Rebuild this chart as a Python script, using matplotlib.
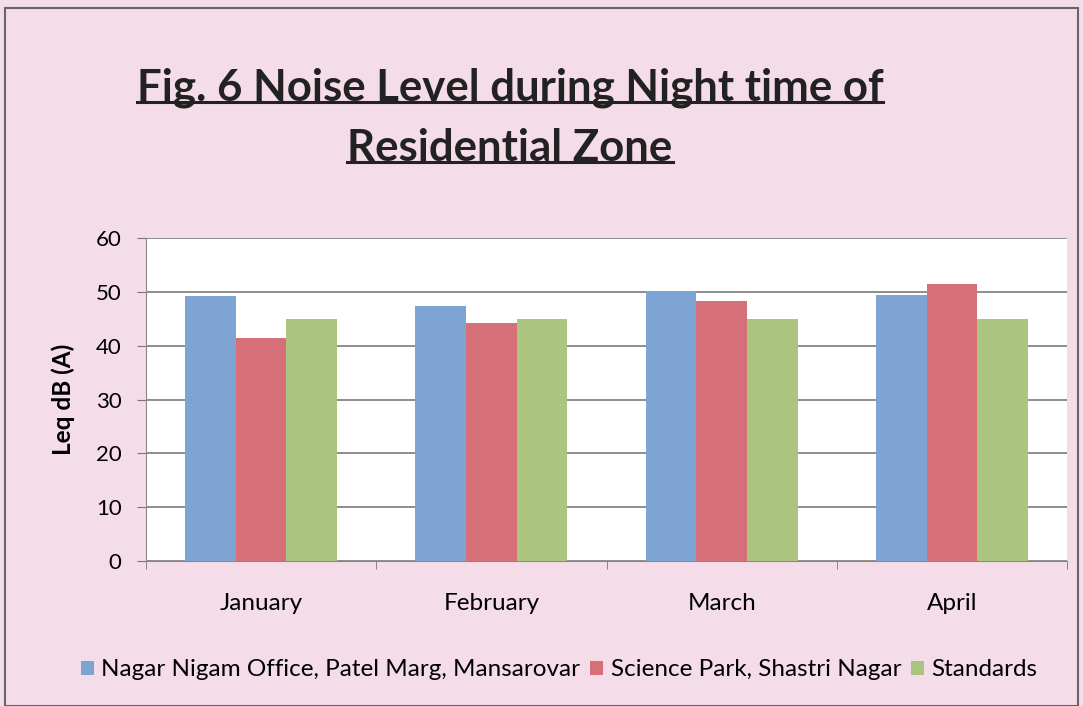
import numpy as np
import matplotlib.pyplot as plt
from matplotlib.patches import Rectangle
from matplotlib.lines import Line2D

months = ["January", "February", "March", "April"]
series_names = ["Nagar Nigam Office, Patel Marg, Mansarovar",
                "Science Park, Shastri Nagar",
                "Standards"]
nagar_nigam = [49.3, 47.4, 50.2, 49.4]
science_park = [41.4, 44.2, 48.3, 51.4]
standards = [45, 45, 45, 45]
colors = ["#7ea4d3", "#d76f78", "#abc47f"]

plt.rcParams['font.family'] = ['Lato', 'DejaVu Sans']

fig = plt.figure(figsize=(10.83, 7.06), dpi=100)
fig.patch.set_facecolor("#f4dce9")
W, H = 1083, 706
ax = fig.add_axes([146 / W, 1 - 561 / H, 921 / W, 323 / H])
ax.set_facecolor("white")

x = np.arange(len(months))
bw = 0.22
for i, vals in enumerate([nagar_nigam, science_park, standards]):
    ax.bar(x + (i - 1) * bw, vals, bw, color=colors[i], label=series_names[i], zorder=3)

ax.set_xlim(-0.5, len(months) - 0.5)
ax.set_ylim(0, 60)
ax.set_yticks(range(0, 61, 10))
ax.set_xticks(x)
ax.set_xticklabels(months, fontsize=17.5)
ax.set_xticks(np.arange(-0.5, len(months)), minor=True)
ax.tick_params(axis='x', which='major', length=0, pad=23)
ax.tick_params(axis='x', which='minor', length=6, color="#777777")
ax.tick_params(axis='y', length=6.5, color="#777777", labelsize=16, pad=11)
ax.grid(axis='y', color="#7a7a7a", linewidth=1.2, zorder=0)
for s in ["top", "right"]:
    ax.spines[s].set_visible(False)
ax.spines["left"].set_color("#888888")
ax.spines["bottom"].set_color("#888888")
ax.set_ylabel("Leq dB (A)", fontsize=17.5, fontweight='bold', labelpad=15)

leg = fig.legend(loc='center', bbox_to_anchor=(559 / W, 1 - 670 / H), ncol=3,
                 frameon=False, fontsize=17.5, handlelength=0.55, handleheight=0.55,
                 handletextpad=0.3, columnspacing=0.4)

# title lines with underline
t1 = fig.text(510 / W, 1 - 88 / H, "Fig. 6 Noise Level during Night time of",
              ha='center', va='center', fontsize=31.5, fontweight='bold', color="#222222")
t2 = fig.text(510 / W, 1 - 148 / H, "Residential Zone",
              ha='center', va='center', fontsize=31.5, fontweight='bold', color="#222222")
fig.canvas.draw()
r = fig.canvas.get_renderer()
for t in (t1, t2):
    bb = t.get_window_extent(renderer=r)
    yb = bb.y0 + 6
    fig.add_artist(Line2D([bb.x0 / W, bb.x1 / W], [yb / H, yb / H],
                          transform=fig.transFigure, color="#222222", linewidth=2.2))

fig.add_artist(Rectangle((5 / W, 0), 1073 / W, 1 - 8 / H, transform=fig.transFigure,
                         fill=False, edgecolor="#666666", linewidth=1.5))

fig.savefig("out.png", dpi=100, facecolor=fig.get_facecolor())
